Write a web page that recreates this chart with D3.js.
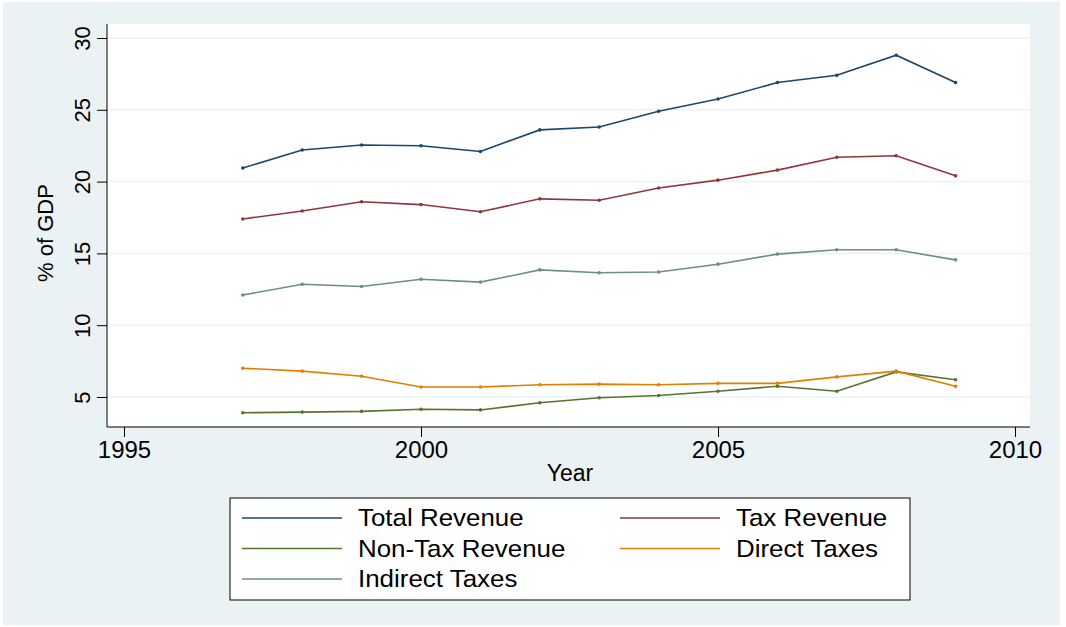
<!DOCTYPE html>
<html><head><meta charset="utf-8">
<script src="https://cdn.jsdelivr.net/npm/d3@7"></script>
<style>body{margin:0;background:#fff}text{font-family:"Liberation Sans",Arial,sans-serif}</style>
</head><body>
<script>
const years = [1997,1998,1999,2000,2001,2002,2003,2004,2005,2006,2007,2008,2009];
const totalRevenue = [20.95,22.2,22.55,22.5,22.1,23.6,23.8,24.9,25.75,26.9,27.4,28.8,26.9];
const taxRevenue = [17.4,17.95,18.6,18.4,17.9,18.8,18.7,19.55,20.1,20.8,21.7,21.8,20.4];
const nonTaxRevenue = [3.9,3.95,4.0,4.15,4.1,4.6,4.95,5.1,5.4,5.75,5.4,6.75,6.2];
const directTaxes = [7.0,6.8,6.45,5.7,5.7,5.85,5.9,5.85,5.95,5.95,6.4,6.8,5.75];
const indirectTaxes = [12.1,12.85,12.7,13.2,13.0,13.85,13.65,13.7,14.25,14.95,15.25,15.25,14.55];
const xTicks = [1995,2000,2005,2010];
const yTicks = [5,10,15,20,25,30];

const series = [
  {name:"Total Revenue", values: totalRevenue, color:"#1a476f"},
  {name:"Tax Revenue", values: taxRevenue, color:"#90353b"},
  {name:"Non-Tax Revenue", values: nonTaxRevenue, color:"#55752f"},
  {name:"Direct Taxes", values: directTaxes, color:"#e37e00"},
  {name:"Indirect Taxes", values: indirectTaxes, color:"#6e8e84"}
];

const svg = d3.select("body").append("svg").attr("width",1066).attr("height",627);
svg.append("rect").attr("x",3).attr("y",2).attr("width",1057).attr("height",623).attr("fill","#eaf2f3");
svg.append("rect").attr("x",107).attr("y",24).attr("width",923).attr("height",403).attr("fill","#fff");

const x = d3.scaleLinear().domain([1995,2010]).range([124,1015]);
const y = d3.scaleLinear().domain([5,30]).range([397,38]);

svg.selectAll(".grid").data(yTicks).join("line")
  .attr("x1",107).attr("x2",1030).attr("y1",d=>y(d)).attr("y2",d=>y(d))
  .attr("stroke","#eaf2f3").attr("stroke-width",1.5);

const ya = svg.append("g").attr("transform","translate(107,0)")
  .call(d3.axisLeft(y).tickValues(yTicks).tickSize(10));
ya.select(".domain").attr("d","M0,24V427");
ya.selectAll(".tick text").attr("font-size",22).attr("fill","#000").attr("text-anchor","middle")
  .attr("transform","translate(-25,0) rotate(-90)").attr("x",0).attr("y",0).attr("dy","0.35em");

const xa = svg.append("g").attr("transform","translate(0,427)")
  .call(d3.axisBottom(x).tickValues(xTicks).tickFormat(d3.format("d")).tickSize(10).tickPadding(4));
xa.select(".domain").attr("d","M107,0H1030");
xa.selectAll("text").attr("font-size",24).attr("fill","#000");

svg.append("text").attr("x",570).attr("y",481).attr("text-anchor","middle").attr("font-size",23).text("Year");
svg.append("text").attr("transform","translate(53,233) rotate(-90)").attr("text-anchor","middle").attr("font-size",22).text("% of GDP");

const line = d3.line().x((d,i)=>x(years[i])).y(d=>y(d));
series.forEach(s=>{
  svg.append("path").attr("d",line(s.values)).attr("fill","none").attr("stroke",s.color).attr("stroke-width",1.6);
  svg.selectAll(null).data(s.values).join("circle")
    .attr("cx",(d,i)=>x(years[i])).attr("cy",d=>y(d)).attr("r",1.8).attr("fill",s.color);
});

svg.append("rect").attr("x",230).attr("y",498).attr("width",680).attr("height",102)
  .attr("fill","#fff").attr("stroke","#000").attr("stroke-width",1);
series.forEach((s,i)=>{
  const col=i%2, row=Math.floor(i/2);
  const lx = col?620:242, ly = 518+row*30.5;
  svg.append("line").attr("x1",lx).attr("x2",lx+100).attr("y1",ly).attr("y2",ly).attr("stroke",s.color).attr("stroke-width",1.6);
  svg.append("text").attr("x",lx+116).attr("y",ly).attr("dy","0.35em").attr("font-size",24)
    .attr("transform",`translate(${lx+116},0) scale(1.08,1) translate(${-(lx+116)},0)`).text(s.name);
});
</script>
</body></html>
